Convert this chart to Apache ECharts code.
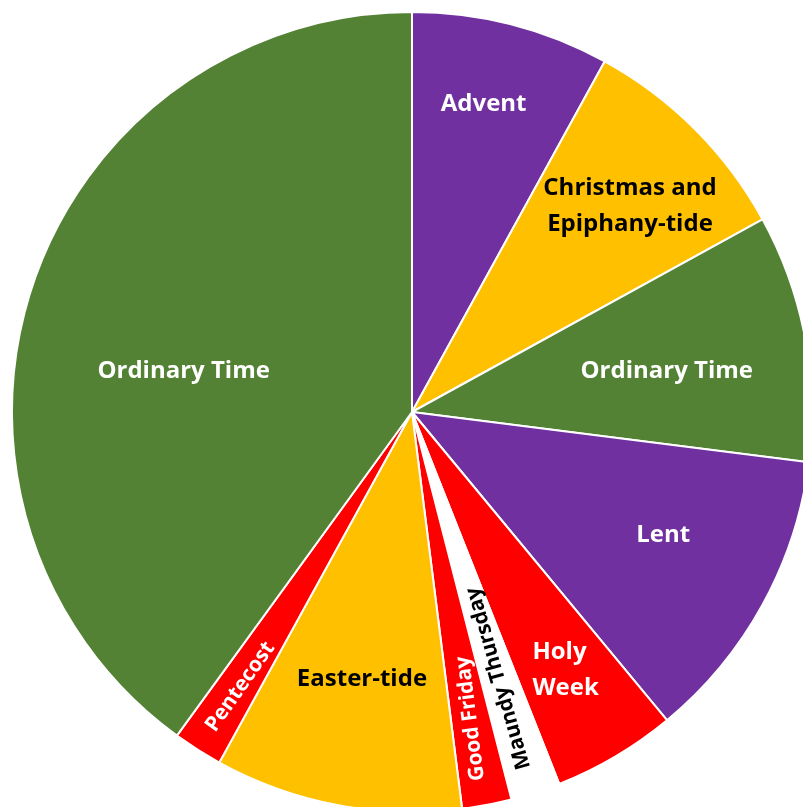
<!DOCTYPE html>
<html>
<head>
<meta charset="utf-8">
<script src="https://cdn.jsdelivr.net/npm/echarts@6/dist/echarts.min.js"></script>
<style>
html,body{margin:0;padding:0;background:#fff;}
#chart{width:803px;height:807px;}
</style>
</head>
<body>
<div id="chart"></div>
<script>
// Data (units of liturgical time)
const categories = ['Advent', 'Christmas and\nEpiphany-tide', 'Ordinary Time', 'Lent', 'Holy\nWeek',
  'Maundy Thursday', 'Good Friday', 'Easter-tide', 'Pentecost', 'Ordinary Time'];
const values = [4, 4.5, 5, 6, 2.5, 1, 1, 5, 1, 20];

// Styles
const colors = ['#7030A0', '#FFC000', '#548235', '#7030A0', '#FF0000', '#FFFFFF', '#FF0000', '#FFC000', '#FF0000', '#548235'];
const textColors = ['#fff', '#000', '#fff', '#fff', '#fff', '#000', '#fff', '#000', '#fff', '#fff'];
const labelRadiusFrac = [0.79, 0.75, 0.645, 0.70, 0.75, 0.70, 0.78, 0.68, 0.81, 0.58];
const labelAngleShift = [-1.3, 1.6, 1.7, -2.6, -0.2, 0, 0, -0.2, -0.4, -7.8];
const labelRotate = [0, 0, 0, 0, 0, 106, 97, 0, 55, 0];
const labelSize = [24, 24, 24, 24, 24, 21, 21, 24, 21, 24];
const labelAlign = ['center', 'center', 'center', 'center', 'left', 'center', 'center', 'center', 'center', 'center'];

const CX = 412, CY = 412, R = 400;
const total = values.reduce((a, b) => a + b, 0);
const mids = [];
let acc = 0;
values.forEach(v => { mids.push((acc + v / 2) / total * 360); acc += v; });

const chart = echarts.init(document.getElementById('chart'), null, {renderer: 'canvas'});
chart.setOption({
  backgroundColor: '#ffffff',
  animation: false,
  series: [{
    type: 'pie',
    center: [CX, CY],
    radius: [0, R],
    startAngle: 90,
    clockwise: true,
    avoidLabelOverlap: false,
    itemStyle: {borderColor: '#ffffff', borderWidth: 2},
    label: {
      show: true,
      position: 'inside',
      fontFamily: 'Open Sans',
      fontWeight: 'bold',
      lineHeight: 36,
      formatter: p => p.name
    },
    labelLine: {show: false},
    emphasis: {disabled: true},
    labelLayout: function (p) {
      const i = p.dataIndex;
      const a = (mids[i] + labelAngleShift[i]) * Math.PI / 180;
      const r = labelRadiusFrac[i] * R;
      let x = CX + r * Math.sin(a);
      const y = CY - r * Math.cos(a);
      if (labelAlign[i] === 'left') x -= p.labelRect.width / 2;
      return {x: x, y: y, align: labelAlign[i], verticalAlign: 'middle'};
    },
    data: values.map((v, i) => ({
      value: v,
      name: categories[i],
      itemStyle: {color: colors[i]},
      label: {color: textColors[i], rotate: labelRotate[i], fontSize: labelSize[i], lineHeight: 36, align: labelAlign[i]}
    }))
  }]
});
</script>
</body>
</html>
